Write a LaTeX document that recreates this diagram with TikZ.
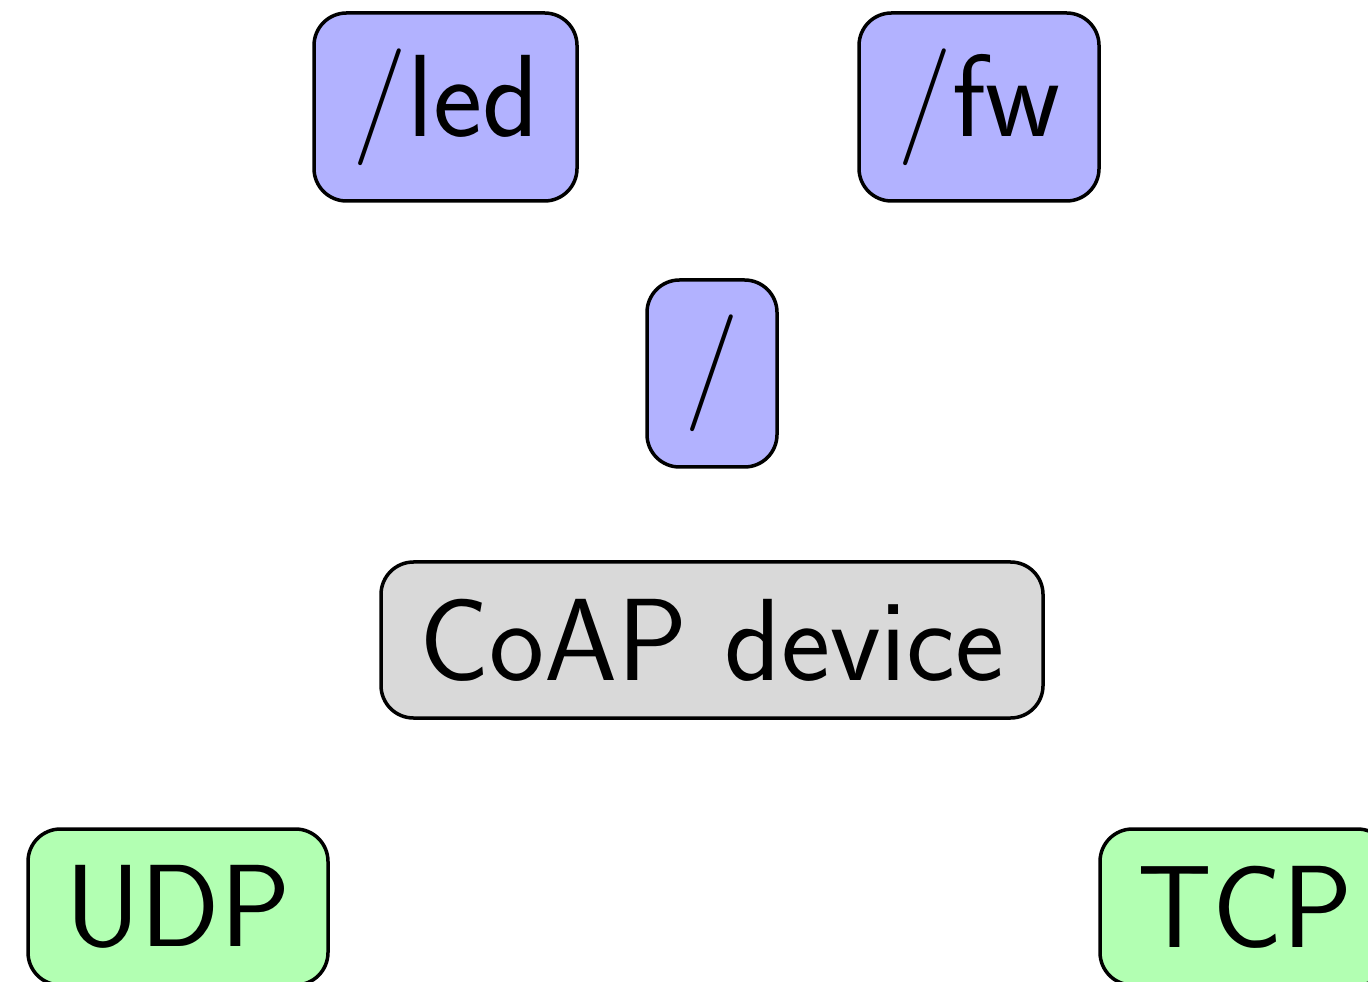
\documentclass[tikz,border=0pt]{standalone}
\begin{document}
\begin{tikzpicture}[x=0.2pt,y=-0.2pt,
  box/.style={draw=black, line width=0.7pt, rounded corners=6.5pt, inner sep=0pt,
    font=\sffamily\fontsize{23.4}{28}\selectfont, align=center},
  res/.style={box, fill=blue!30},
  dev/.style={box, fill=black!15},
  tr/.style={box, fill=green!30}]
\useasboundingbox (0,0) rectangle (1368,982);
\clip (0,0) rectangle (1368,982);
\node[res, minimum width=263*0.2pt, minimum height=188*0.2pt] (led) at (445.5,107) {/led};
\node[res, minimum width=240*0.2pt, minimum height=188*0.2pt] (fw) at (979,107) {/fw};
\node[res, minimum width=130*0.2pt, minimum height=187*0.2pt] (root) at (712,373.5) {/};
\node[dev, minimum width=662*0.2pt, minimum height=156*0.2pt] (coap) at (712,640) {CoAP device};
\node[tr, minimum width=300*0.2pt, minimum height=156*0.2pt] (udp) at (178,907) {UDP};
\node[tr, minimum width=290*0.2pt, minimum height=156*0.2pt] (tcp) at (1245,907) {TCP};
\end{tikzpicture}
\end{document}
